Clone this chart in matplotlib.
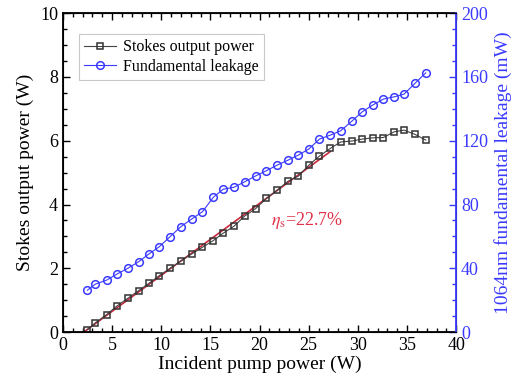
import numpy as np
import matplotlib
matplotlib.use("Agg")
import matplotlib.pyplot as plt
from matplotlib.ticker import MultipleLocator

pump = [2.5, 3.3, 4.45, 5.5, 6.6, 7.7, 8.75, 9.8, 10.9, 12.0, 13.1, 14.2, 15.3, 16.3,
        17.4, 18.5, 19.6, 20.7, 21.8, 22.9, 23.95, 25.0, 26.1, 27.2, 28.25, 29.4,
        30.45, 31.5, 32.6, 33.7, 34.7, 35.8, 36.9]
stokes = [0.08, 0.29, 0.55, 0.82, 1.06, 1.3, 1.53, 1.77, 2.0, 2.23, 2.45, 2.66, 2.87, 3.1,
          3.32, 3.64, 3.87, 4.19, 4.45, 4.73, 4.89, 5.23, 5.52, 5.76, 5.96, 5.99,
          6.05, 6.09, 6.1, 6.28, 6.33, 6.2, 6.02]
leakage = [26.3, 30.1, 32.6, 36.4, 40.0, 44.1, 49.0, 53.5, 59.8, 66.1, 70.9, 75.5, 84.5, 89.6,
           90.8, 94.3, 97.9, 101.2, 104.7, 107.8, 111.0, 114.7, 121.0, 123.5, 126.2, 132.3,
           138.1, 142.3, 146.1, 147.5, 149.2, 155.9, 162.5]
n_fit = 24  # points used for slope efficiency fit

plt.rcParams['font.family'] = ['Liberation Serif', 'DejaVu Serif']
plt.rcParams['mathtext.fontset'] = 'stix'

blue = '#3a3aff'
fig = plt.figure(figsize=(5.28, 3.84), dpi=100)
ax = fig.add_axes([0.119, 0.135, 0.745, 0.831])
ax2 = ax.twinx()

l1, = ax.plot(pump, stokes, color='#444444', linewidth=0.8, marker='s', markersize=5,
              markerfacecolor='none', markeredgecolor='#333333', markeredgewidth=1.1,
              label='Stokes output power')
l2, = ax2.plot(pump, leakage, color=blue, linewidth=0.8, marker='o', markersize=5.5,
               markerfacecolor='none', markeredgecolor=blue, markeredgewidth=1.1,
               label='Fundamental leakage')

k, b = np.polyfit(pump[:n_fit], stokes[:n_fit], 1)
xf = np.array([-b / k, pump[n_fit - 1]])
ax.plot(xf, k * xf + b, color='#c8283c', linewidth=1.2, zorder=1)
ax.text(21.2, 3.35, r'$\eta_\mathrm{s}$=22.7%', color='#e0304a', fontsize=13)

ax.set_xlim(0, 40)
ax.set_ylim(0, 10)
ax2.set_ylim(0, 200)
ax.xaxis.set_major_locator(MultipleLocator(5))
ax.xaxis.set_minor_locator(MultipleLocator(1))
ax.yaxis.set_major_locator(MultipleLocator(2))
ax.yaxis.set_minor_locator(MultipleLocator(0.5))
ax2.yaxis.set_major_locator(MultipleLocator(40))
ax2.yaxis.set_minor_locator(MultipleLocator(10))

ax.tick_params(which='both', direction='in', top=True, labelsize=13, width=1)
ax.tick_params(which='major', length=5)
ax.tick_params(which='minor', length=3)
ax2.tick_params(which='both', direction='in', colors=blue, labelsize=13, width=1)
ax2.tick_params(which='major', length=5)
ax2.tick_params(which='minor', length=3)
ax2.spines['right'].set_color(blue)
ax2.spines['right'].set_linewidth(1.3)
for s in ['left', 'bottom', 'top']:
    ax.spines[s].set_linewidth(1.3)

ax.set_xlabel('Incident pump power (W)', fontsize=14, labelpad=1)
ax.set_ylabel('Stokes output power (W)', fontsize=14, labelpad=4)
ax2.set_ylabel('1064nm fundamental leakage (mW)', fontsize=14, color=blue, labelpad=4)

leg = ax.legend(handles=[l1, l2], loc='upper left', fontsize=11.5, fancybox=False,
                edgecolor='#bbbbbb', handlelength=2.0, handletextpad=0.4,
                borderpad=0.35, labelspacing=0.2, bbox_to_anchor=(0.02, 0.96))
leg.get_frame().set_linewidth(0.8)

fig.savefig('out.png', dpi=100)
